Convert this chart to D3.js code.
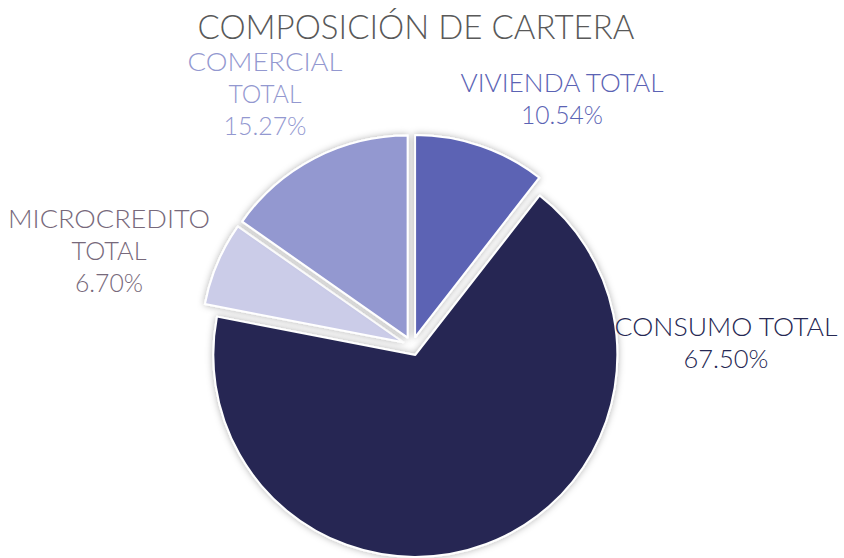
<!DOCTYPE html>
<html>
<head>
<meta charset="utf-8">
<script src="https://cdn.jsdelivr.net/npm/d3@7"></script>
<style>
  html, body { margin: 0; padding: 0; background: #fff; }
  svg text { font-family: Lato, "Noto Sans", sans-serif; font-weight: 300; }
</style>
</head>
<body>
<svg id="chart" width="844" height="558"></svg>
<script>
var categories = ['VIVIENDA TOTAL', 'CONSUMO TOTAL', 'MICROCREDITO TOTAL', 'COMERCIAL TOTAL'];
var values = [10.54, 67.50, 6.70, 15.27];
var labelLines = [['VIVIENDA TOTAL'], ['CONSUMO TOTAL'], ['MICROCREDITO', 'TOTAL'], ['COMERCIAL', 'TOTAL']];

var colors = ['#5b63b4', '#262853', '#cbcce8', '#9398d0'],
    labelColors = ['#5b63b4', '#262853', '#77697b', '#9398d0'];

// label anchors (centre x, first baseline y) and widths of each line
var labelLayout = [
  {x: 562, y: 92, widths: [203, 82]},
  {x: 726, y: 336, widths: [223, 85]},
  {x: 109, y: 228, widths: [202, 75, 68]},
  {x: 265, y: 71, widths: [155, 73, 83]}
];

var width = 844, height = 558,
    cx = 412, cy = 346,
    radius = 202,
    explode = 9.5;

var svg = d3.select('#chart');

var defs = svg.append('defs');
var filter = defs.append('filter')
  .attr('id', 'glow')
  .attr('x', '-20%').attr('y', '-20%')
  .attr('width', '140%').attr('height', '140%');
filter.append('feDropShadow')
  .attr('dx', 0).attr('dy', 0)
  .attr('stdDeviation', 3.5)
  .attr('flood-color', '#000')
  .attr('flood-opacity', 0.3);

var pie = d3.pie().sort(null).value(function(d) { return d; });
var arc = d3.arc().innerRadius(0).outerRadius(radius);

var arcs = pie(values);

var root = svg.append('g')
  .attr('transform', 'translate(' + cx + ',' + cy + ')');

root.selectAll('path.slice')
  .data(arcs)
  .enter()
  .append('path')
  .attr('class', 'slice')
  .attr('d', arc)
  .attr('fill', function(d, i) { return colors[i]; })
  .attr('stroke', '#fff')
  .attr('stroke-width', 2)
  .attr('stroke-linejoin', 'round')
  .attr('filter', 'url(#glow)')
  .attr('transform', function(d) {
    var a = (d.startAngle + d.endAngle) / 2;
    return 'translate(' + (Math.sin(a) * explode) + ',' + (-Math.cos(a) * explode) + ')';
  });

// title
svg.append('text')
  .attr('x', 416)
  .attr('y', 39)
  .attr('text-anchor', 'middle')
  .attr('font-size', 33)
  .attr('fill', '#595959')
  .attr('textLength', 437)
  .attr('lengthAdjust', 'spacingAndGlyphs')
  .text('COMPOSICIÓN DE CARTERA');

// data labels
var label = svg.selectAll('text.label')
  .data(arcs)
  .enter()
  .append('text')
  .attr('class', 'label')
  .attr('text-anchor', 'middle')
  .attr('font-size', 26)
  .attr('fill', function(d, i) { return labelColors[i]; });

label.each(function(d, i) {
  var lay = labelLayout[i],
      lines = labelLines[i].concat([d3.format('.2f')(values[i]) + '%']),
      t = d3.select(this);
  lines.forEach(function(line, j) {
    t.append('tspan')
      .attr('x', lay.x)
      .attr('y', lay.y + j * 32)
      .attr('textLength', lay.widths[j])
      .attr('lengthAdjust', 'spacingAndGlyphs')
      .text(line);
  });
});
</script>
</body>
</html>
